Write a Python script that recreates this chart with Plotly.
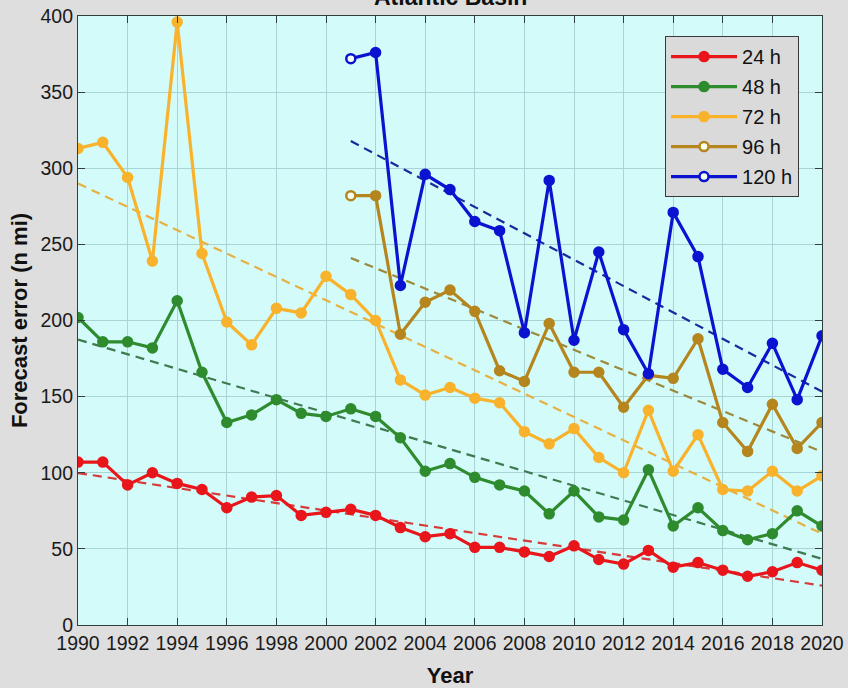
import numpy as np
import plotly.graph_objects as go

years_all = list(range(1990, 2021))
years_late = list(range(2001, 2021))

err_24 = [107, 107, 92, 100, 93, 89, 77, 84, 85, 72, 74, 76, 72, 64, 58, 60,
          51, 51, 48, 45, 52, 43, 40, 49, 38, 41, 36, 32, 35, 41, 36]
err_48 = [202, 186, 186, 182, 213, 166, 133, 138, 148, 139, 137, 142, 137, 123, 101, 106,
          97, 92, 88, 73, 88, 71, 69, 102, 65, 77, 62, 56, 60, 75, 65]
err_72 = [313, 317, 294, 239, 396, 244, 199, 184, 208, 205, 229, 217, 200, 161, 151, 156,
          149, 146, 127, 119, 129, 110, 100, 141, 101, 125, 89, 88, 101, 88, 98]
err_96 = [282, 282, 191, 212, 220, 206, 167, 160, 198, 166, 166, 143, 164, 162, 188,
          133, 114, 145, 116, 133]
err_120 = [372, 376, 223, 296, 286, 265, 259, 192, 292, 187, 245, 194, 165, 271, 242,
           168, 156, 185, 148, 190]

series = [
    ("24 h", years_all, err_24, "#E8161B", "#D83A3A", False),
    ("48 h", years_all, err_48, "#2E8B2E", "#3E7A4E", False),
    ("72 h", years_all, err_72, "#F9B22C", "#E8B040", False),
    ("96 h", years_late, err_96, "#B5851E", "#9C8A3A", True),
    ("120 h", years_late, err_120, "#0B12D0", "#1A2A9A", True),
]

FONT = "Liberation Sans, Arial, sans-serif"

fig = go.Figure()

# trend lines (least-squares fits of each series)
for name, x, y, col, tcol, hollow in series:
    c = np.polyfit(x, y, 1)
    xs = [x[0], x[-1]]
    fig.add_trace(go.Scatter(x=xs, y=list(np.polyval(c, xs)), mode="lines",
                             line=dict(color=tcol, width=2.2, dash="9px,6px"),
                             showlegend=False, hoverinfo="skip"))

for name, x, y, col, tcol, hollow in series:
    n = len(y)
    fill = ([col] * n) if not hollow else (["#F4FFF0"] + [col] * (n - 1))
    fig.add_trace(go.Scatter(x=x, y=y, mode="lines+markers", name=name,
                             legendgroup=name,
                             line=dict(color=col, width=3.2),
                             marker=dict(size=9, color=fill,
                                         line=dict(color=col, width=2.5))))

axis_common = dict(
    showline=True, linecolor="#2F3F3F", linewidth=1.2, mirror="ticks",
    ticks="inside", ticklen=7, tickcolor="#2F3F3F", tickwidth=1.2,
    showgrid=True, gridcolor="#A8D4D4", gridwidth=1,
    zeroline=False, automargin=False,
    tickfont=dict(family=FONT, size=19.5, color="#1A1A1A"),
)

fig.update_xaxes(range=[1990, 2020], dtick=2, tick0=1990,
                 title=dict(text="<b>Year</b>", standoff=15,
                            font=dict(family=FONT, size=22, color="#111111")),
                 **axis_common)
fig.update_yaxes(range=[0, 400], dtick=50,
                 title=dict(text="<b>Forecast error (n mi)</b>", standoff=6,
                            font=dict(family=FONT, size=22, color="#111111")),
                 **axis_common)

fig.add_annotation(text="<b>Atlantic Basin</b>", x=0.5, xref="paper", y=1.006, yref="paper",
                   xanchor="center", yanchor="bottom", showarrow=False,
                   font=dict(family=FONT, size=23, color="#111111"))

fig.update_layout(
    width=848, height=688,
    margin=dict(l=78, r=26, t=16, b=63),
    paper_bgcolor="#DEDEDE",
    plot_bgcolor="#D2FBFA",
    legend=dict(x=0.789, y=0.967, xanchor="left", yanchor="top",
                bgcolor="#DADADA", bordercolor="#3A3A3A", borderwidth=1,
                font=dict(family=FONT, size=20, color="#111111"),
                itemwidth=66, tracegroupgap=1),
    showlegend=True,
)

fig.write_html("out.html", config={"displayModeBar": False},
               post_script="document.body.style.margin='0';document.body.style.overflow='hidden';")
